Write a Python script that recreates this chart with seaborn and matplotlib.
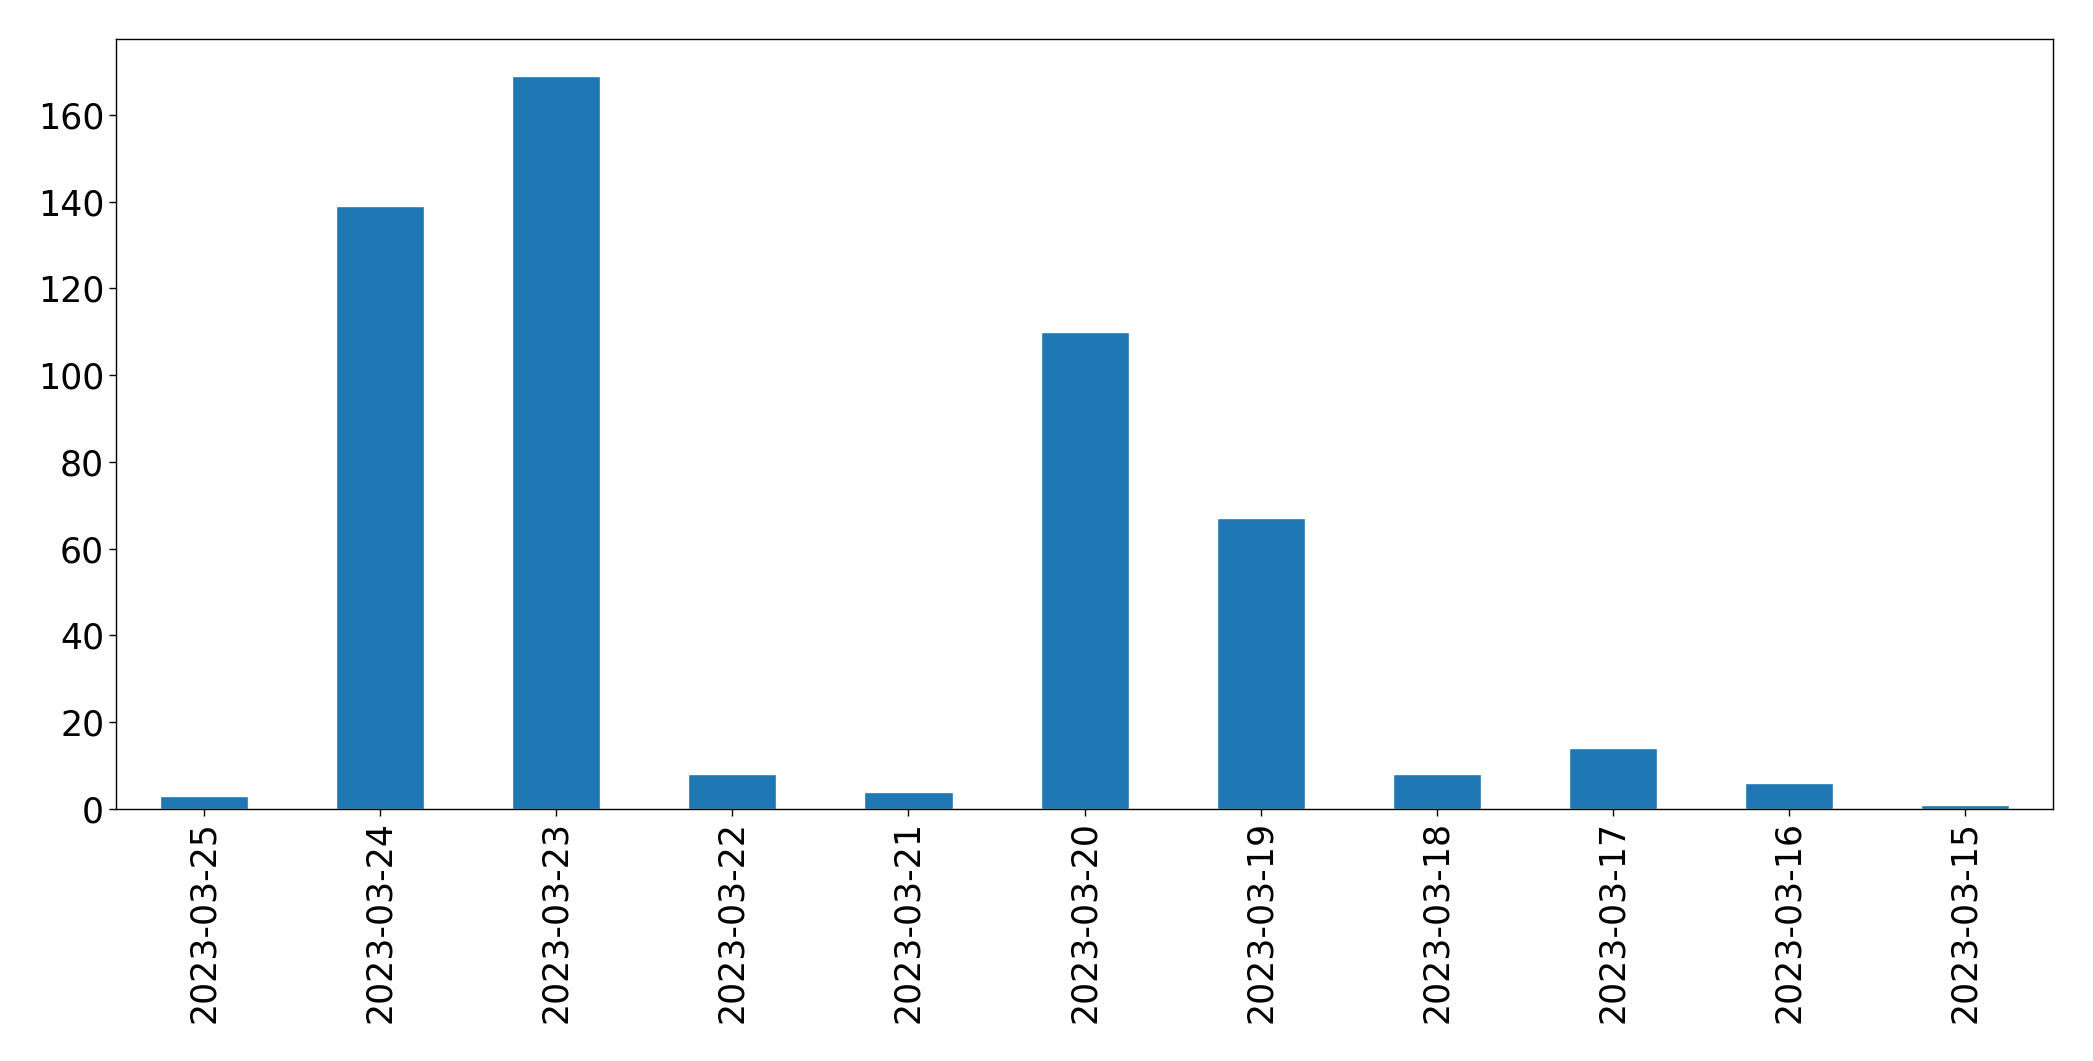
import matplotlib
matplotlib.use("Agg")
import matplotlib.pyplot as plt
import seaborn as sns
import pandas as pd

# dates (newest first) and counts per day
dates = ["2023-03-25", "2023-03-24", "2023-03-23", "2023-03-22", "2023-03-21",
         "2023-03-20", "2023-03-19", "2023-03-18", "2023-03-17", "2023-03-16",
         "2023-03-15"]
counts = [3, 139, 169, 8, 4, 110, 67, 8, 14, 6, 1]

df = pd.DataFrame({"date": dates, "count": counts})

sns.set_style("ticks")
plt.rcParams["font.family"] = ["DejaVu Sans"]

fig = plt.figure(figsize=(20.93, 10.61), dpi=100)
ax = fig.add_axes([0.0554, 0.2375, 0.9256, 0.7255])

sns.barplot(data=df, x="date", y="count", order=dates, color="#1f77b4",
            saturation=1, width=0.5, ax=ax)

ax.set_xlim(-0.5, len(dates) - 0.5)
ax.set_ylim(0, max(counts) * 1.05)
ax.set_xlabel("")
ax.set_ylabel("")
ax.tick_params(axis="both", labelsize=25, length=5, width=1,
               color="black", labelcolor="black")
ax.tick_params(axis="x", rotation=90)
for s in ax.spines.values():
    s.set_visible(True)
    s.set_linewidth(1)
    s.set_color("black")

fig.savefig("out.png", dpi=100)
